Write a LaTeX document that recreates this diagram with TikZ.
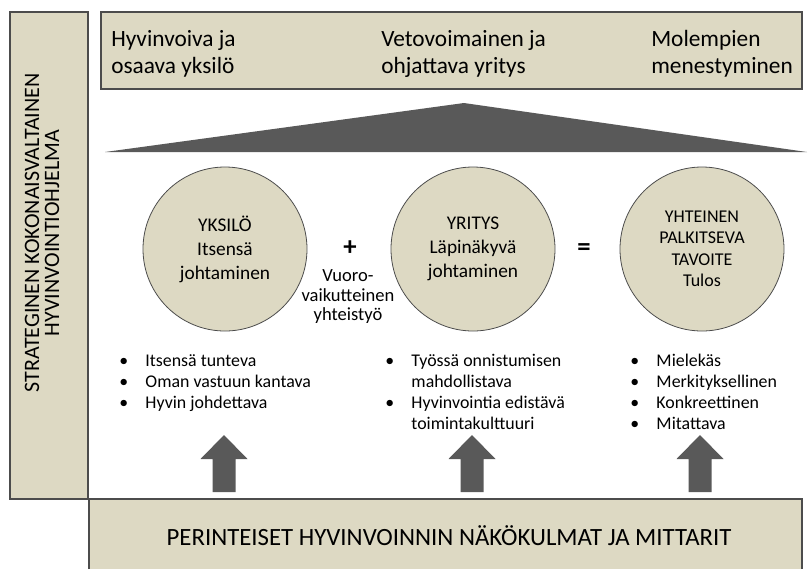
\documentclass[tikz,border=0pt]{standalone}
\usepackage{fontspec}
\setmainfont{Carlito}
\usepackage{xcolor}
\definecolor{tanfill}{HTML}{DDD9C3}
\colorlet{edgecol}{black!70}
\colorlet{roofcol}{black!65}
\tikzstyle{panel}=[draw=edgecol,fill=tanfill,line width=0.8]
\tikzstyle{goal}=[circle,draw=edgecol,fill=tanfill,line width=0.6,minimum size=123pt,inner sep=0,align=center]
\tikzstyle{toptext}=[anchor=base west,align=left,inner sep=0,font=\fontsize{17.5}{20.25}\selectfont]
\tikzstyle{bullets}=[anchor=base west,inner sep=0,font=\fontsize{13.4}{15.75}\selectfont]

\newcommand{\bulletlist}[1]{\begin{tabular}[t]{@{}l@{\hspace{13pt}}l@{}}#1\end{tabular}}

\begin{document}
\begin{tikzpicture}[x=0.75pt,y=-0.75pt]
  \useasboundingbox (0,0) rectangle (808,569);

  \coordinate (C1) at (225,249); % YKSILO
  \coordinate (C2) at (473,249); % YRITYS
  \coordinate (C3) at (702,249); % TAVOITE
  \coordinate (A1) at (224,492); % ARROW FEET
  \coordinate (A2) at (472,492);
  \coordinate (A3) at (700,492);

  % BOXES
  \filldraw[panel] (10,12) rectangle (88,499);
  \filldraw[panel] (101,12) rectangle (802,89);
  \fill[tanfill] (89,499) rectangle (802,569);
  \draw[edgecol,line width=0.8] (89,569) -- (89,499) -- (802,499) -- (802,569);

  \node[rotate=90,align=center,font=\fontsize{16.5}{15}\selectfont] (side) at (42,233)
    {STRATEGINEN KOKONAISVALTAINEN\\HYVINVOINTIOHJELMA};
  \node[font=\fontsize{18.6}{20}\selectfont] (base) at (449,536)
    {PERINTEISET HYVINVOINNIN NÄKÖKULMAT JA MITTARIT};

  % TOP TEXTS
  \node[toptext] (aim1) at (111,73) {Hyvinvoiva ja\\osaava yksilö};
  \node[toptext] (aim2) at (381,73) {Vetovoimainen ja\\ohjattava yritys};
  \node[toptext] (aim3) at (651,73) {Molempien\\menestyminen};

  % ROOF
  \fill[roofcol] (105,152) -- (464,103) -- (807,152) -- cycle;

  % CIRCLES
  \node[goal,font=\fontsize{14.5}{18}\selectfont] (self) at (C1) {YKSILÖ\\Itsensä\\johtaminen};
  \node[goal,font=\fontsize{14.5}{18}\selectfont] (firm) at (C2) {YRITYS\\Läpinäkyvä\\johtaminen};
  \node[goal,font=\fontsize{13.5}{16.1}\selectfont] (goal) at (C3) {YHTEINEN\\PALKITSEVA\\TAVOITE\\Tulos};

  \node[font=\bfseries\fontsize{20}{20}\selectfont] (plus) at (350,248) {+};
  \node[align=center,font=\fontsize{13.9}{14.6}\selectfont] (coop) at (348,297)
    {Vuoro-\\vaikutteinen\\yhteistyö};
  \node[font=\bfseries\fontsize{20}{20}\selectfont] (equal) at (584,250) {=};

  % LISTS
  \node[bullets] (list1) at (119,366) {\bulletlist{%
    \textbullet & Itsensä tunteva\\
    \textbullet & Oman vastuun kantava\\
    \textbullet & Hyvin johdettava}};
  \node[bullets] (list2) at (385,366) {\bulletlist{%
    \textbullet & Työssä onnistumisen\\
                & mahdollistava\\
    \textbullet & Hyvinvointia edistävä\\
                & toimintakulttuuri}};
  \node[bullets] (list3) at (630,366) {\bulletlist{%
    \textbullet & Mielekäs\\
    \textbullet & Merkityksellinen\\
    \textbullet & Konkreettinen\\
    \textbullet & Mitattava}};

  % ARROWS
  \foreach \a in {A1,A2,A3}
    \fill[roofcol] (\a) ++(-11.5,0) -- ++(0,-33) -- ++(-12,0) -- ++(23.5,-24)
      -- ++(23.5,24) -- ++(-12,0) -- ++(0,33) -- cycle;
\end{tikzpicture}
\end{document}
